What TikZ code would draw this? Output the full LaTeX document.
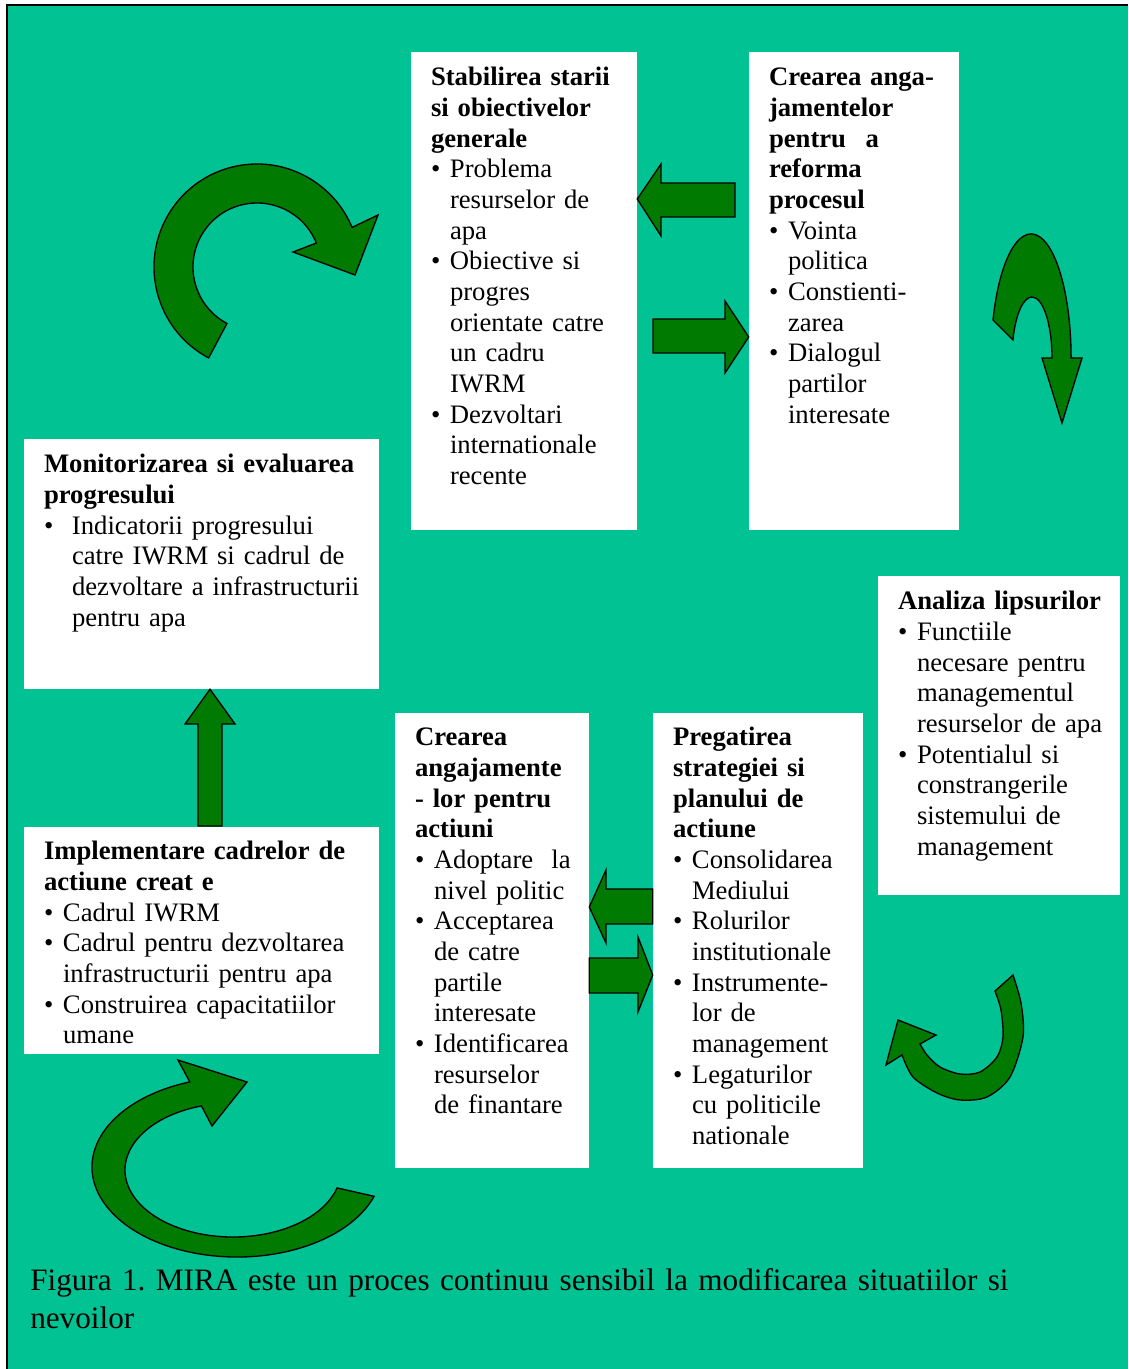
\documentclass[tikz,border=0pt]{standalone}
\usepackage{fontspec}
\setmainfont{Liberation Serif}
\usepackage{tikz}
\usetikzlibrary{positioning, calc, fit}

\definecolor{sea}{RGB}{0,194,146}
\definecolor{leaf}{RGB}{0,122,0}

% bullet line with hanging indent
\newcommand{\bul}[1]{\par\leftskip=#1\noindent\hspace{-#1}\makebox[#1][l]{\textbullet}}
\frenchspacing

\tikzset{
  panel/.style={fill=white, inner sep=0pt},
  txt/.style={anchor=base west, inner sep=0pt, text width=9cm, align=left,
    font=\fontsize{20}{23}\selectfont},
  blockarr/.style={fill=leaf, draw=black, line width=1pt, line join=miter},
}

\begin{document}
\begin{tikzpicture}[x=0.75pt, y=-0.75pt]
  \useasboundingbox (0,0) rectangle (1128,1369);

  % Background
  \fill[white] (0,0) rectangle (1128,1369);
  \fill[sea] (7,5) rectangle (1128,1369);
  \draw[line width=1.5pt] (7,1369) -- (7,5) -- (1128,5);

  % Boxes
  \node[panel, fit={(411,52) (637,530)}] (stab) {};
  \node[panel, fit={(749,52) (959,530)}] (angaj) {};
  \node[panel, fit={(24,439) (379,689)}] (monit) {};
  \node[panel, fit={(878,576) (1120,895)}] (analiz) {};
  \node[panel, fit={(24,827) (379,1054)}] (implem) {};
  \node[panel, fit={(395,713) (589,1168)}] (actiuni) {};
  \node[panel, fit={(653,713) (863,1168)}] (strateg) {};

  % Box texts
  \node[txt] (stab-txt) at ($(stab.north west)+(20,34)$) {%
    \textbf{Stabilirea starii\\si obiectivelor\\generale}
    \bul{14.25pt}Problema\\resurselor de\\apa
    \bul{14.25pt}Obiective si\\progres\\orientate catre\\un cadru\\IWRM
    \bul{14.25pt}Dezvoltari\\internationale\\recente\par};

  \node[txt] (angaj-txt) at ($(angaj.north west)+(20,34)$) {%
    \textbf{Crearea anga-\\jamentelor\\pentru\hspace{8pt} a\\reforma\\procesul}
    \bul{14.25pt}Vointa\\politica
    \bul{14.25pt}Constienti-\\zarea
    \bul{14.25pt}Dialogul\\partilor\\interesate\par};

  \node[txt] (monit-txt) at ($(monit.north west)+(20,34)$) {%
    \textbf{Monitorizarea si evaluarea\\progresului}
    \bul{21pt}Indicatorii progresului\\catre IWRM si cadrul de\\dezvoltare a infrastructurii\\pentru apa\par};

  \node[txt] (analiz-txt) at ($(analiz.north west)+(20,34)$) {%
    \textbf{Analiza lipsurilor}
    \bul{14.25pt}Functiile\\necesare pentru\\managementul\\resurselor de apa
    \bul{14.25pt}Potentialul si\\constrangerile\\sistemului de\\management\par};

  \node[txt] (implem-txt) at ($(implem.north west)+(20,33)$) {%
    \textbf{Implementare cadrelor de\\actiune creat e}
    \bul{14.25pt}Cadrul IWRM
    \bul{14.25pt}Cadrul pentru dezvoltarea\\infrastructurii pentru apa
    \bul{14.25pt}Construirea capacitatiilor\\umane\par};

  \node[txt] (actiuni-txt) at ($(actiuni.north west)+(20,33)$) {%
    \textbf{Crearea\\angajamente\\- lor pentru\\actiuni}
    \bul{14.25pt}Adoptare\hspace{7pt} la\\nivel politic
    \bul{14.25pt}Acceptarea\\de catre\\partile\\interesate
    \bul{14.25pt}Identificarea\\resurselor\\de finantare\par};

  \node[txt] (strateg-txt) at ($(strateg.north west)+(20,33)$) {%
    \textbf{Pregatirea\\strategiei si\\planului de\\actiune}
    \bul{14.25pt}Consolidarea\\Mediului
    \bul{14.25pt}Rolurilor\\institutionale
    \bul{14.25pt}Instrumente-\\lor de\\management
    \bul{14.25pt}Legaturilor\\cu politicile\\nationale\par};

  % Straight arrows
  \draw[blockarr] (stab.east |- 0,199) -- (661,164) -- (661,183) -- (735,183)
    -- (735,217) -- (661,217) -- (661,236) -- cycle;
  \draw[blockarr] (angaj.west |- 0,337) -- (725,373) -- (725,353) -- (653,353)
    -- (653,319) -- (725,319) -- (725,301) -- cycle;
  \draw[blockarr] (actiuni.east |- 0,907) -- (606,870) -- (606,889) -- (strateg.west |- 0,889)
    -- (strateg.west |- 0,924) -- (606,924) -- (606,943) -- cycle;
  \draw[blockarr] (strateg.west |- 0,975) -- (638,1012) -- (638,993) -- (actiuni.east |- 0,993)
    -- (actiuni.east |- 0,958) -- (638,958) -- (638,937) -- cycle;
  \draw[blockarr] (monit.south -| 210,0) -- (235,724) -- (222,724) -- (222,826)
    -- (198,826) -- (198,724) -- (185,724) -- cycle;

  % Curved arrows
  \coordinate (c1) at (257,267);
  \draw[blockarr] ($(c1)+(118:103)$) arc[start angle=118, end angle=337.4, radius=103]
    -- (378,215) -- (355,275) -- (293,252)
    -- ($(c1)+(338:64)$) arc[start angle=338, end angle=118, radius=64] -- cycle;

  \coordinate (c2) at (1032,358);
  \draw[blockarr] (993,320) arc[start angle=197.8, end angle=360, x radius=40, y radius=124]
    -- (1082,358) -- (1062,423) -- (1042,358)
    -- (1052,358) arc[start angle=360, end angle=197.2, x radius=20, y radius=61] -- cycle;

  \draw[blockarr] plot[smooth] coordinates {(1013,975) (1021,1003) (1023,1037) (1010,1077)
      (987,1097) (960,1100) (937,1093) (913,1077) (902,1055)}
    -- (886,1065) -- (898,1020) -- (936,1035)
    -- plot[smooth] coordinates {(920,1044) (927,1055) (940,1067) (960,1074)
      (980,1072) (997,1057) (1003,1037) (1001,1010) (995,991)} -- cycle;

  \coordinate (c4) at (237,1167);
  \draw[blockarr] ($(c4)+(19:145 and 90)$) arc[start angle=19, end angle=251, x radius=145, y radius=90]
    -- (178,1060) -- (247,1082) -- (212,1126)
    -- ($(233,1170)+(253:108 and 67)$) arc[start angle=253, end angle=15.5, x radius=108, y radius=67]
    -- cycle;

  % Caption
  \node[txt, text width=29cm, font=\fontsize{23.4}{28.5}\selectfont] (caption) at (30,1290)
    {Figura 1. MIRA este un proces continuu sensibil la modificarea situatiilor si\\nevoilor};
\end{tikzpicture}
\end{document}
